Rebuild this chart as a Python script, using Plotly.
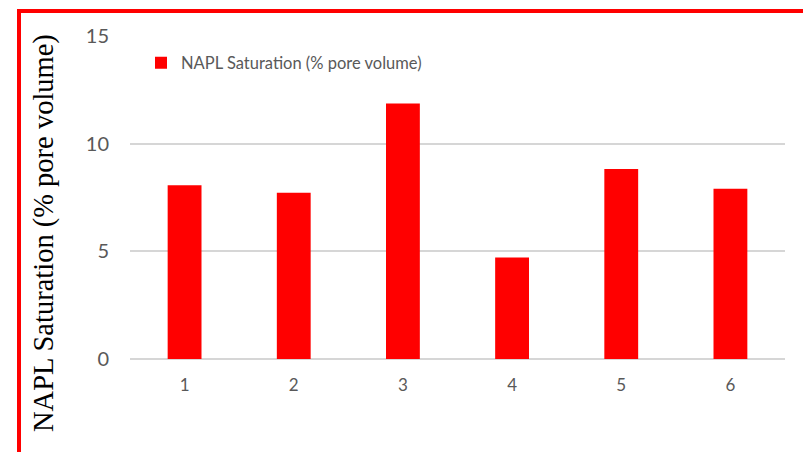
import plotly.graph_objects as go

# Sample locations and measured NAPL saturation
locations = ["1", "2", "3", "4", "5", "6"]
saturation = [8.07, 7.72, 11.87, 4.71, 8.82, 7.91]
y_ticks = [0, 5, 10, 15]
series_name = "NAPL Saturation (% pore volume)"
y_title = "NAPL Saturation (% pore volume)"

W, H = 803, 452
L, R, T, B = 130, 18, 36, 93
plot_w = W - L - R
plot_h = H - T - B


def px_x(p):
    return (p - L) / plot_w


def px_y(p):
    return (H - B - p) / plot_h


fig = go.Figure(
    go.Bar(
        x=locations,
        y=saturation,
        name=series_name,
        marker=dict(color="#ff0000", line=dict(width=0)),
        width=0.31,
        showlegend=True,
    )
)

fig.update_layout(
    width=W,
    height=H,
    margin=dict(l=L, r=R, t=T, b=B),
    paper_bgcolor="white",
    plot_bgcolor="white",
    font=dict(family="Lato, Open Sans, sans-serif", color="#595959"),
    showlegend=True,
    legend=dict(
        x=px_x(141),
        y=px_y(63),
        xanchor="left",
        yanchor="middle",
        bgcolor="rgba(0,0,0,0)",
        font=dict(size=16.5, color="#595959"),
        itemwidth=30,
    ),
    bargap=0.69,
)

fig.update_yaxes(
    range=[0, 15],
    tickvals=y_ticks,
    ticktext=[str(v) for v in y_ticks],
    showgrid=True,
    gridcolor="#d6d6d6",
    gridwidth=1.6,
    zeroline=True,
    zerolinecolor="#d6d6d6",
    zerolinewidth=1.6,
    showline=False,
    ticks="",
    ticklabelstandoff=20,
    tickfont=dict(size=20, color="#595959"),
)

fig.update_xaxes(
    showgrid=False,
    showline=False,
    ticks="",
    ticklabelstandoff=14,
    tickfont=dict(size=17, color="#595959"),
)

# Vertical axis title in a serif face
fig.add_annotation(
    text=y_title,
    xref="paper",
    yref="paper",
    x=px_x(44),
    y=px_y(233),
    xanchor="center",
    yanchor="middle",
    textangle=-90,
    showarrow=False,
    font=dict(family="Liberation Serif, Times New Roman, serif", size=28.5, color="black"),
)

# Red frame around the chart
fig.add_shape(
    type="rect",
    xref="paper",
    yref="paper",
    x0=px_x(19),
    x1=px_x(815),
    y0=px_y(470),
    y1=px_y(11),
    line=dict(color="#ff0000", width=4),
    fillcolor="rgba(0,0,0,0)",
    layer="above",
)

fig.write_html("out.html")
